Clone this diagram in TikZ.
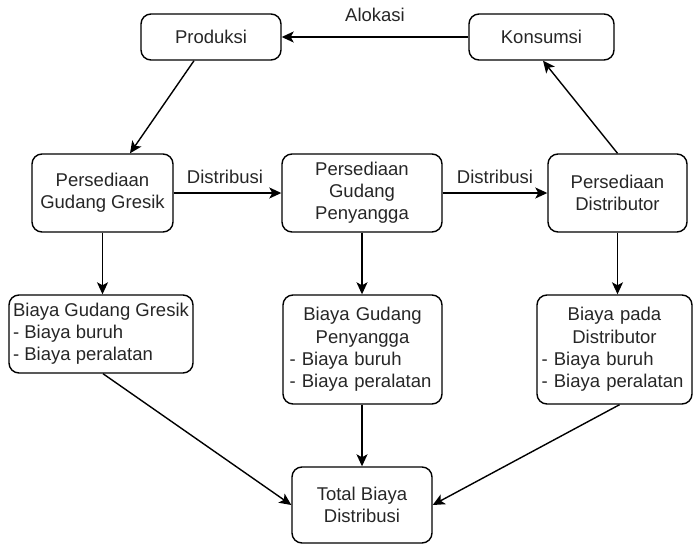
\documentclass[tikz,border=0pt]{standalone}
\usepackage{fontspec}
\setmainfont{Liberation Sans}
\usetikzlibrary{arrows.meta,calc}
\hyphenpenalty=10000
\exhyphenpenalty=10000

\tikzset{
  box/.style={draw, rounded corners=10pt, line width=1.4pt, inner sep=0pt,
              align=center, text=black!85},
  lbl/.style={inner sep=0pt, text=black!85},
  flow/.style={draw, line width=1.4pt, -{Stealth[length=12pt,width=11pt,inset=3pt]}},
}

\begin{document}
\begin{tikzpicture}[x=1pt, y=-1pt, font=\fontsize{18.5}{22.2}\selectfont]
  \useasboundingbox (0,0) rectangle (694,544);

  % top row
  \node[box, minimum width=140pt, minimum height=46pt] (prod) at (211,37) {Produksi};
  \node[box, minimum width=145pt, minimum height=46pt] (kons) at (541.5,37) {Konsumsi};

  % stock levels
  \node[box, minimum width=141pt, minimum height=78pt] (gresik) at (102.5,193) {Persediaan\\Gudang Gresik};
  \node[box, minimum width=160pt, minimum height=78pt] (peny) at (362,193) {Persediaan\\Gudang\\Penyangga};
  \node[box, minimum width=139pt, minimum height=78pt] (dist) at (617.5,193) {Persediaan\\Distributor};

  % cost boxes
  \node[box, align=left, minimum width=184pt, minimum height=78pt] (bgresik) at (101,334)
    {Biaya Gudang Gresik\\ - Biaya buruh\\ - Biaya peralatan};
  \node[box, align=left, text width=146pt, minimum width=159pt, minimum height=109pt] (bpeny) at (362.5,349.5)
    {{\centering Biaya Gudang\\Penyangga\par}- Biaya buruh\\- Biaya peralatan};
  \node[box, align=left, text width=146pt, minimum width=155pt, minimum height=109pt] (bdist) at (614.5,349.5)
    {{\centering Biaya pada\\Distributor\par}- Biaya buruh\\- Biaya peralatan};

  % total
  \node[box, minimum width=140pt, minimum height=76pt] (total) at (362,505) {Total Biaya\\Distribusi};

  % labels
  \node[lbl] (alokasi) at (375,15) {Alokasi};
  \node[lbl] (distA) at (225,177) {Distribusi};
  \node[lbl] (distB) at (495,177) {Distribusi};

  % connectors
  \draw[flow] (kons.west) -- (prod.west -| prod.east);
  \draw[flow] ([xshift=-17pt]prod.south) -- ([xshift=27.5pt]gresik.north);
  \draw[flow] (dist.north) -- ([xshift=1.5pt]kons.south);
  \draw[flow] (gresik.east) -- (peny.west);
  \draw[flow] (peny.east) -- (dist.west);
  \draw[flow] (gresik.south) -- (bgresik.north -| gresik.south);
  \draw[flow] (peny.south) -- (bpeny.north -| peny.south);
  \draw[flow] (dist.south) -- (bdist.north -| dist.south);
  \draw[flow] ([xshift=2pt]bgresik.south) -- (total.west);
  \draw[flow] (bpeny.south -| total.north) -- (total.north);
  \draw[flow] ([xshift=5pt]bdist.south) -- (total.east);
\end{tikzpicture}
\end{document}
